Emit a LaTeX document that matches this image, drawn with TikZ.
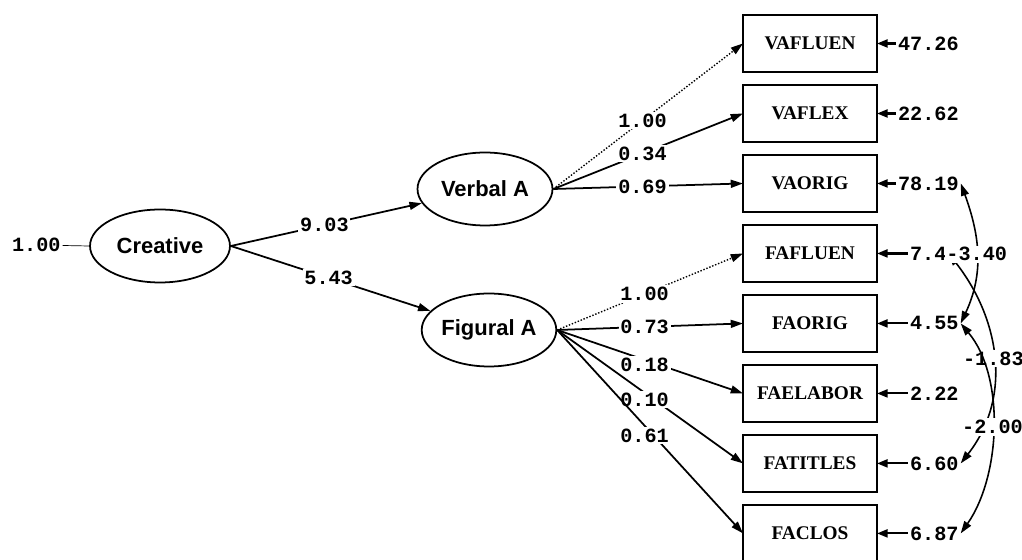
\documentclass[tikz,border=0pt]{standalone}
\usepackage{fontspec}
\setmainfont{Liberation Serif}
\setsansfont{Liberation Sans}
\setmonofont{Liberation Mono}
\usetikzlibrary{positioning, arrows.meta, shapes.geometric}
\tikzset{
  latent/.style={
    draw,
    ellipse,
    line width=1pt,
    minimum width=2.7cm,
    minimum height=1.46cm,
    inner sep=0pt,
    font=\sffamily\bfseries\fontsize{12.5}{14}\selectfont
  },
  observed/.style={
    draw,
    rectangle,
    line width=1.3pt,
    outer sep=0pt,
    minimum width=2.68cm,
    minimum height=1.14cm,
    font=\bfseries\fontsize{11}{13}\selectfont
  },
  estimate/.style={
    fill=white,
    inner sep=1pt,
    font=\ttfamily\bfseries\fontsize{11.5}{13}\selectfont
  },
  loading/.style={
    line width=1pt,
    -{Triangle[length=7pt,width=4.5pt]}
  },
  fixed/.style={
    densely dotted,
    line width=0.8pt,
    -{Triangle[length=7pt,width=4.5pt]}
  },
  errarrow/.style={
    line width=1.2pt,
    -{Triangle[length=6pt,width=4.5pt]}
  },
  covar/.style={
    line width=0.9pt,
    {Triangle[length=7pt,width=4.5pt]}-{Triangle[length=7pt,width=4.5pt]}
  }
}

\begin{document}
\begin{tikzpicture}[x=0.02cm, y=0.02cm]
    \useasboundingbox (0,0) rectangle (1022,-560);

    % latent variables
    \node[latent, minimum width=2.8cm] (creative) at (160,-246) {Creative};
    \node[latent] (verbal) at (485,-189) {Verbal A};
    \node[latent, minimum width=2.6cm] (figural) at (489,-330) {Figural A};
    \node[estimate, anchor=west] (cvar) at (10,-245) {1.00};

    % indicators
    \node[observed] (vafluen) at (810,-43.5) {VAFLUEN};
    \node[observed, below=0.26cm of vafluen] (vaflex) {VAFLEX};
    \node[observed, below=0.26cm of vaflex] (vaorig) {VAORIG};
    \node[observed, below=0.26cm of vaorig] (fafluen) {FAFLUEN};
    \node[observed, below=0.26cm of fafluen] (faorig) {FAORIG};
    \node[observed, below=0.26cm of faorig] (faelabor) {FAELABOR};
    \node[observed, below=0.26cm of faelabor] (fatitles) {FATITLES};
    \node[observed, below=0.26cm of fatitles] (faclos) {FACLOS};

    % error variances
    \node[estimate, right=0.38cm of vafluen] (evafluen) {47.26};
    \node[estimate, right=0.38cm of vaflex] (evaflex) {22.62};
    \node[estimate, right=0.38cm of vaorig] (evaorig) {78.19};
    \node[estimate, right=0.62cm of fafluen] (efafluen) {7.4};
    \node[estimate, right=0.62cm of faorig] (efaorig) {4.55};
    \node[estimate, right=0.62cm of faelabor] (efaelabor) {2.22};
    \node[estimate, right=0.62cm of fatitles] (efatitles) {6.60};
    \node[estimate, right=0.62cm of faclos] (efaclos) {6.87};

    \draw[thin] (cvar) -- (creative.west);
    \draw[loading] (creative.east) -- node[estimate, pos=0.49] {9.03} (verbal);
    \draw[loading] (creative.east) -- node[estimate, pos=0.49] {5.43} (figural);

    \draw[fixed] (verbal.east) -- node[estimate, pos=0.47] {1.00} (vafluen.west);
    \draw[loading] (verbal.east) -- node[estimate, pos=0.47] {0.34} (vaflex.west);
    \draw[loading] (verbal.east) -- node[estimate, pos=0.47] {0.69} (vaorig.west);
    \draw[fixed] (figural.east) -- node[estimate, pos=0.47] {1.00} (fafluen.west);
    \draw[loading] (figural.east) -- node[estimate, pos=0.47] {0.73} (faorig.west);
    \draw[loading] (figural.east) -- node[estimate, pos=0.47, yshift=-0.1cm] {0.18} (faelabor.west);
    \draw[loading] (figural.east) -- node[estimate, pos=0.47, yshift=-0.14cm] {0.10} (fatitles.west);
    \draw[loading] (figural.east) -- node[estimate, pos=0.47, yshift=-0.2cm] {0.61} (faclos.west);

    \draw[errarrow] (evafluen) -- (vafluen);
    \draw[errarrow] (evaflex) -- (vaflex);
    \draw[errarrow] (evaorig) -- (vaorig);
    \draw[errarrow] (efafluen) -- (fafluen);
    \draw[errarrow] (efaorig) -- (faorig);
    \draw[errarrow] (efaelabor) -- (faelabor);
    \draw[errarrow] (efatitles) -- (fatitles);
    \draw[errarrow] (efaclos) -- (faclos);

    % error covariances
    \draw[covar] (efafluen.east) to[out=-52, in=52, looseness=1.02] node[estimate] {-1.83} (efatitles.east);
    \draw[covar] (evaorig.east) to[out=-70, in=65, looseness=1.02] node[estimate] {-3.40} (efaorig.east);
    \draw[covar] (efaorig.east) to[out=-50, in=55, looseness=0.85] node[estimate] {-2.00} (efaclos.east);
\end{tikzpicture}
\end{document}
